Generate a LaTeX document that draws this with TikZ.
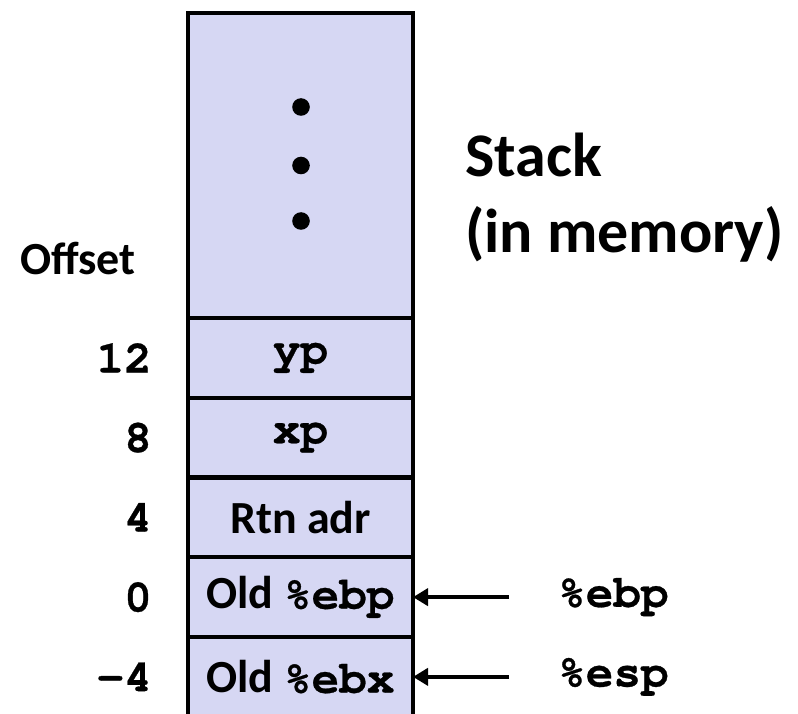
\documentclass[tikz,border=0pt]{standalone}
\usepackage{fontspec}
\setmainfont{Carlito}
\setmonofont{texgyrecursor}[Extension=.otf, UprightFont=*-regular, BoldFont=*-bold, BoldFeatures={FakeBold=0.6}]
\usetikzlibrary{positioning, arrows.meta}
\definecolor{stackfill}{RGB}{214, 215, 243}

\begin{document}
\begin{tikzpicture}[x=1pt, y=1pt, every node/.style={align=center, font=\fontsize{46}{55}\selectfont\bfseries},
    cell/.style={draw, line width=4.3pt, fill=stackfill, minimum width=225pt, minimum height=79.75pt, inner sep=0pt, outer sep=0pt},
    lbl/.style={inner sep=0pt},
    ptr/.style={line width=4.7pt, -{Triangle[length=15pt, width=17pt]}, shorten <=49pt}]
        \useasboundingbox (0,0) rectangle (798,-714);
        \node[cell, minimum height=305pt] (stk) at (300.5,-165.5) {};
        \node[cell, below=0pt of stk] (yprow) {\texttt{yp}};
        \node[cell, below=0pt of yprow] (xprow) {\texttt{xp}};
        \node[cell, below=0pt of xprow] (rtnrow) {Rtn adr};
        \node[cell, below=0pt of rtnrow] (ebprow) {Old \texttt{\%ebp}};
        \node[cell, below=0pt of ebprow] (ebxrow) {Old \texttt{\%ebx}};
        
        \fill ([xshift=0.5pt, yshift=58.5pt]stk.center) circle (8.8pt);
        \fill ([xshift=0.5pt]stk.center) circle (8.8pt);
        \fill ([xshift=0.5pt, yshift=-55.5pt]stk.center) circle (8.8pt);
        
        \node[lbl, anchor=base] (offhdr) at (78,-275) {Offset};
        \node[lbl, left=36pt of yprow] (off12) {\texttt{12}};
        \node[lbl, left=36pt of xprow] (off8) {\texttt{8}};
        \node[lbl, left=36pt of rtnrow] (off4) {\texttt{4}};
        \node[lbl, left=36pt of ebprow] (off0) {\texttt{0}};
        \node[lbl, left=36pt of ebxrow] (offm4) {\texttt{-4}};
        
        \node[lbl, align=left, anchor=base west, font=\fontsize{62}{76}\selectfont\bfseries] (stkttl) at (465,-253) {Stack\\(in memory)};
        
        \node[lbl, right=145pt of ebprow] (ebpreg) {\texttt{\%ebp}};
        \node[lbl, right=145pt of ebxrow] (espreg) {\texttt{\%esp}};
        \draw[ptr] (ebpreg) -- (ebprow);
        \draw[ptr] (espreg) -- (ebxrow);
    \end{tikzpicture}
\end{document}
